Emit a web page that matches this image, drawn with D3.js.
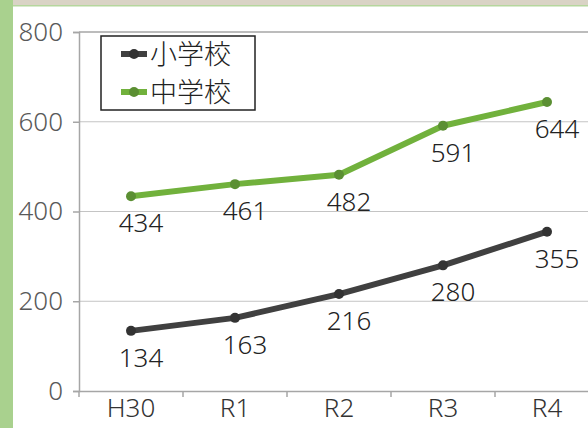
<!DOCTYPE html>
<html>
<head>
<meta charset="utf-8">
<script src="https://cdn.jsdelivr.net/npm/d3@7"></script>
<style>
  body { margin: 0; background: #fff; }
  svg { display: block; font-family: "Noto Sans", "Noto Sans CJK JP", sans-serif; font-weight: 300; }
</style>
</head>
<body>
<svg id="chart"></svg>
<script>
const years = ["H30", "R1", "R2", "R3", "R4"];
const elementary = [134, 163, 216, 280, 355];
const juniorHigh = [434, 461, 482, 591, 644];
const yTicks = [0, 200, 400, 600, 800];
const seriesNames = ["小学校", "中学校"];

const width = 588;
const height = 428;
const font = "'Noto Sans', 'Noto Sans CJK JP', sans-serif";

const svg = d3.select("#chart")
  .attr("width", width)
  .attr("height", height);

// page decoration: left green strip and top beige strip
svg.append("rect").attr("x", 0).attr("y", 0).attr("width", width).attr("height", 5).attr("fill", "#d9d3c5");
svg.append("rect").attr("x", 0).attr("y", 5).attr("width", width).attr("height", 1.5).attr("fill", "#b5d69d");
svg.append("rect").attr("x", 0).attr("y", 0).attr("width", 13).attr("height", height).attr("fill", "#a9d18e");

const x = d3.scaleBand()
  .domain(years)
  .range([79, 599]);

const y = d3.scaleLinear()
  .domain([0, 800])
  .range([391, 32]);

// horizontal gridlines
svg.append("g").selectAll("line")
  .data(yTicks.filter(d => d > 0))
  .join("line")
  .attr("x1", 79).attr("x2", width)
  .attr("y1", d => y(d)).attr("y2", d => y(d))
  .attr("stroke", d => d === 800 ? "#a6a6a6" : "#c4c4c4")
  .attr("stroke-width", d => d === 800 ? 1.5 : 1);

const yAxis = svg.append("g")
  .attr("transform", "translate(79,0)")
  .call(d3.axisLeft(y).tickValues(yTicks).tickSize(6).tickPadding(10));
yAxis.select(".domain").attr("stroke", "#a6a6a6").attr("stroke-width", 1.5);
yAxis.selectAll(".tick line").attr("stroke", "#a6a6a6").attr("stroke-width", 1.5);
yAxis.selectAll("text").attr("font-size", 26).attr("fill", "#595959")
  .attr("font-family", font).attr("font-weight", 300);

const xAxis = svg.append("g")
  .attr("transform", "translate(0,391)")
  .call(d3.axisBottom(x).tickSize(0).tickPadding(8));
xAxis.select(".domain").attr("stroke", "#a6a6a6").attr("stroke-width", 1.5);
xAxis.selectAll("text").attr("font-size", 26).attr("fill", "#333")
  .attr("font-family", font).attr("font-weight", 300);

// tick marks between categories
const bounds = years.map(d => x(d)).concat([x(years[years.length - 1]) + x.bandwidth()]);
svg.append("g").selectAll("line")
  .data(bounds)
  .join("line")
  .attr("x1", d => d).attr("x2", d => d)
  .attr("y1", 391).attr("y2", 397)
  .attr("stroke", "#a6a6a6").attr("stroke-width", 1.5);

const cx = d => x(d) + x.bandwidth() / 2;

const series = [
  {name: seriesNames[0], values: elementary, line: "#404040", dot: "#333333"},
  {name: seriesNames[1], values: juniorHigh, line: "#71b13c", dot: "#5b8f33"}
];

const line = d3.line()
  .x((d, i) => cx(years[i]))
  .y(d => y(d));

series.forEach(s => {
  svg.append("path")
    .datum(s.values)
    .attr("fill", "none")
    .attr("stroke", s.line)
    .attr("stroke-width", 6)
    .attr("stroke-linejoin", "round")
    .attr("d", line);

  svg.append("g").selectAll("circle")
    .data(s.values)
    .join("circle")
    .attr("cx", (d, i) => cx(years[i]))
    .attr("cy", d => y(d))
    .attr("r", 5)
    .attr("fill", s.dot);

  svg.append("g").selectAll("text")
    .data(s.values)
    .join("text")
    .attr("x", (d, i) => cx(years[i]) + 10)
    .attr("y", d => y(d) + 36)
    .attr("text-anchor", "middle")
    .attr("font-size", 26)
    .attr("fill", "#222")
    .text(d => d);
});

// legend
const legend = svg.append("g");
legend.append("rect")
  .attr("x", 101).attr("y", 36)
  .attr("width", 154).attr("height", 74)
  .attr("fill", "#fff")
  .attr("stroke", "#222").attr("stroke-width", 1.5);

series.forEach((s, i) => {
  const ly = 54 + i * 38;
  legend.append("line")
    .attr("x1", 121).attr("x2", 147)
    .attr("y1", ly).attr("y2", ly)
    .attr("stroke", s.line).attr("stroke-width", 6);
  legend.append("circle")
    .attr("cx", 134).attr("cy", ly).attr("r", 5).attr("fill", s.dot);
  legend.append("text")
    .attr("x", 150).attr("y", ly)
    .attr("dy", "0.36em")
    .attr("font-size", 27)
    .attr("fill", "#222")
    .attr("font-family", "'Noto Sans CJK JP', sans-serif")
    .text(s.name);
});
</script>
</body>
</html>
